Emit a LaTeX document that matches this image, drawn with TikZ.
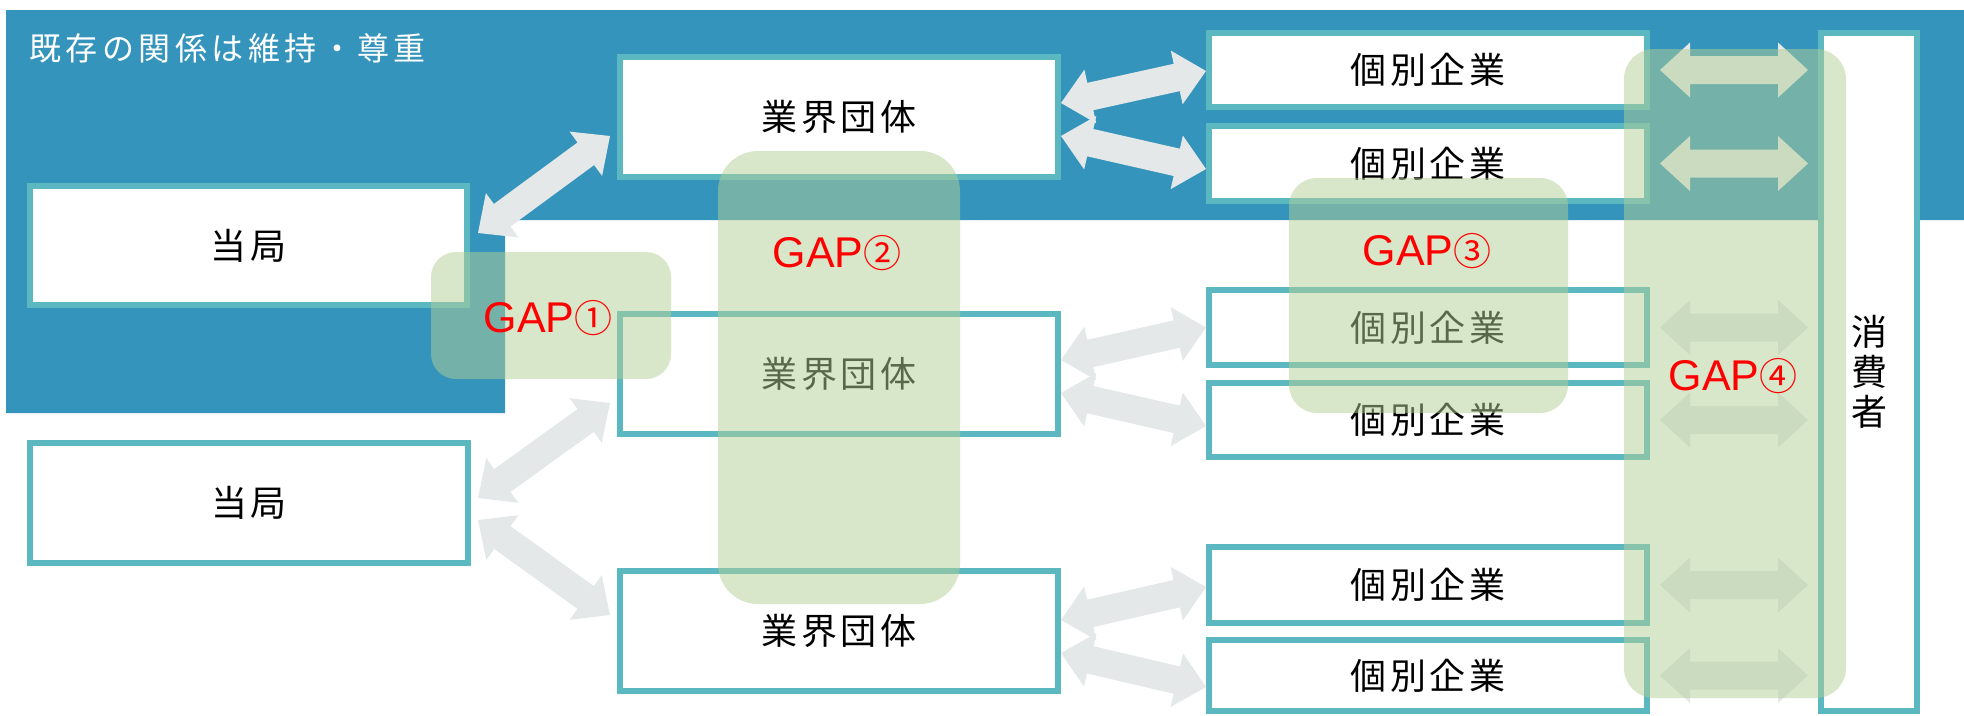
\documentclass[tikz,border=0pt]{standalone}
\usepackage{fontspec}
\usetikzlibrary{calc}
\setmainfont{Liberation Sans}
\newfontfamily\jpfont[LetterSpace=10]{Noto Sans CJK JP}
\newfontfamily\jptitle[LetterSpace=14]{Noto Sans CJK JP}
\newfontfamily\jpplain{Noto Sans CJK JP}
\newcommand\circnum[1]{{\jpplain\fontsize{38}{40}\selectfont #1}}
\definecolor{bgblue}{RGB}{53,148,187}
\definecolor{boxteal}{RGB}{91,183,192}
\definecolor{arrowgray}{RGB}{228,232,233}
\definecolor{gapgreen}{RGB}{179,207,151}
\definecolor{gapred}{RGB}{255,0,0}
% double block arrow between two points: tip-to-tip
\newcommand\dblarrow[2]{%
  \coordinate (arA) at #1;
  \coordinate (arB) at #2;
  \coordinate (arA1) at ($(arA)!30pt!(arB)$);
  \coordinate (arB1) at ($(arB)!30pt!(arA)$);
  \fill[barrow] (arA)
    -- ($(arA1)!27.5pt!90:(arB)$) -- ($(arA1)!14pt!90:(arB)$)
    -- ($(arB1)!14pt!-90:(arA)$) -- ($(arB1)!27.5pt!-90:(arA)$)
    -- (arB)
    -- ($(arB1)!27.5pt!90:(arA)$) -- ($(arB1)!14pt!90:(arA)$)
    -- ($(arA1)!14pt!-90:(arB)$) -- ($(arA1)!27.5pt!-90:(arB)$) -- cycle;
}
\begin{document}
\begin{tikzpicture}[x=1pt,y=-1pt,
  box/.style={draw=boxteal,line width=6pt,fill=white,inner sep=0pt,outer sep=0pt,
    font=\jpfont\fontsize{36}{40}\selectfont},
  kbox/.style={box,minimum width=438pt},
  barrow/.style={fill=arrowgray,draw=none},
  gapbox/.style={fill=gapgreen,fill opacity=0.5,draw=none,inner sep=0pt,outer sep=0pt},
  gaplabel/.style={text=gapred,font=\fontsize{43}{46}\selectfont,inner sep=0pt,anchor=base}
]
\useasboundingbox (0,0) rectangle (1964,715);
\fill[white] (0,0) rectangle (1964,715);
\fill[bgblue] (6,10) -- (1964,10) -- (1964,220) -- (505,220) -- (505,413) -- (6,413) -- cycle;
\node[anchor=west,text=white,font=\jptitle\fontsize{32}{36}\selectfont,inner sep=0pt] (title) at (29,48) {既存の関係は維持・尊重};

% boxes
\node[box,minimum width=437pt,minimum height=119pt] (tA) at (248.5,245.5) {当局};
\node[box,minimum width=438pt,minimum height=120pt] (tB) at (839,117) {業界団体};
\node[kbox,minimum height=74pt] (k1) at (1428,70) {個別企業};
\node[kbox,minimum height=75pt] (k2) at (1428,163.5) {個別企業};
\node[box,minimum width=438pt,minimum height=120pt] (bA) at (249,503) {当局};
\node[box,minimum width=438pt,minimum height=120pt] (mB) at (839,374) {業界団体};
\node[box,minimum width=438pt,minimum height=120pt] (bB) at (839,631) {業界団体};
\node[kbox,minimum height=75pt] (k3) at (1428,327.5) {個別企業};
\node[kbox,minimum height=74pt] (k4) at (1428,420) {個別企業};
\node[kbox,minimum height=76pt] (k5) at (1428,585) {個別企業};
\node[kbox,minimum height=71pt] (k6) at (1428,675.5) {個別企業};
\node[box,minimum width=96pt,minimum height=678pt,align=center] (cons) at (1869,372) {消\\費\\者};

% arrows
\dblarrow{($(tA.east)+(11,-12.5)$)}{($(tB.west)+(-10,19)$)}
\dblarrow{($(tB.east)+(3,-14)$)}{($(k1.west)+(-3,1)$)}
\dblarrow{($(tB.east)+(3,19)$)}{($(k2.west)+(-3,5.5)$)}
\dblarrow{($(bA.east)+(10,-5)$)}{($(mB.west)+(-10,29)$)}
\dblarrow{($(bA.east)+(10,17)$)}{($(bB.west)+(-10,-16)$)}
\dblarrow{($(mB.east)+(3,-14)$)}{($(k3.west)+(-3,0)$)}
\dblarrow{($(mB.east)+(3,19)$)}{($(k4.west)+(-3,6)$)}
\dblarrow{($(bB.east)+(3,-11)$)}{($(k5.west)+(-3,2)$)}
\dblarrow{($(bB.east)+(3,22)$)}{($(k6.west)+(-3,11.5)$)}
\foreach \k in {k1,k2,k3,k4,k5,k6}{
  \dblarrow{($(\k.east)+(13,0)$)}{($(\k.east -| cons.west)+(-13,0)$)}
}

% gap overlays
\node[gapbox,rounded corners=25pt,minimum width=240pt,minimum height=127pt] (g1) at (551,315.5) {};
\node[gapbox,rounded corners=40pt,minimum width=242pt,minimum height=453pt] (g2) at (839,377.5) {};
\node[gapbox,rounded corners=28pt,minimum width=279pt,minimum height=235pt] (g3) at (1428.5,295.5) {};
\node[gapbox,rounded corners=30pt,minimum width=222pt,minimum height=649pt] (g4) at (1735,373.5) {};

% gap labels
\node[gaplabel] (l1) at (548,332) {GAP\circnum{①}};
\node[gaplabel] (l2) at (837,267) {GAP\circnum{②}};
\node[gaplabel] (l3) at (1427,265) {GAP\circnum{③}};
\node[gaplabel] (l4) at (1733,390) {GAP\circnum{④}};
\end{tikzpicture}
\end{document}
